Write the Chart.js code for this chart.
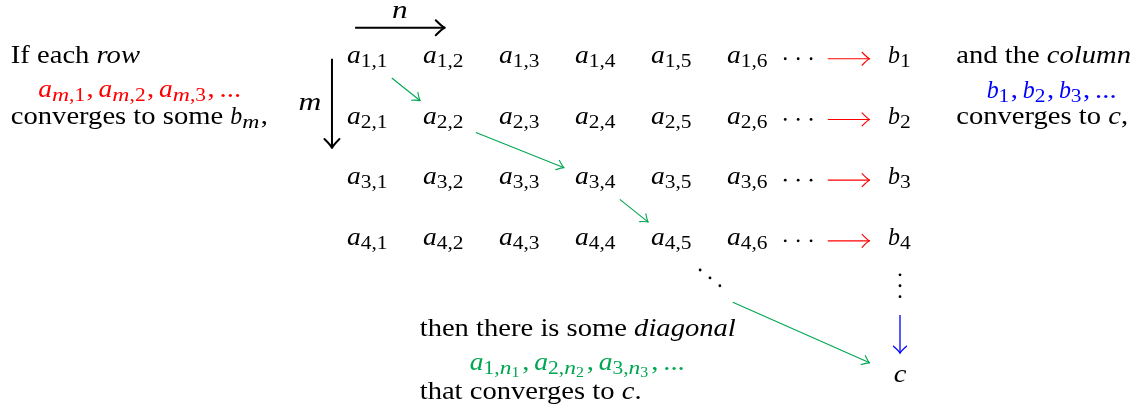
<!DOCTYPE html>
<html>
<head>
<meta charset="utf-8">
<script src="https://cdn.jsdelivr.net/npm/chart.js@4/dist/chart.umd.min.js"></script>
<style>html,body{margin:0;background:#fff}canvas{display:block}</style>
</head>
<body>
<canvas id="diag" width="1144" height="410"></canvas>
<script>
// the matrix a_{m,n}: rows m, columns n
var rows = [1, 2, 3, 4];
var cols = [1, 2, 3, 4, 5, 6];
// the chosen diagonal n_1, n_2, n_3, n_4
var diagCols = [1, 2, 4, 5];
// where the limits b_m and c sit
var limitCol = 8;
var limitRow = 6.26;
// dots
var cdotsCols = [6.49, 6.66, 6.83];
var vdotsRows = [4.49, 4.67, 4.85];
var ddotsCols = [5.37, 5.5, 5.63];
var ddotsRows = [4.41, 4.54, 4.67];
// arrows
var rowArrowCols = [7.05, 7.6];
var colArrowRows = [5.15, 5.78];
var lastArrowCols = [5.8, 7.6];
var lastArrowRows = [4.94, 5.94];

var RED = '#ff0000', BLUE = '#0000ff', GREEN = '#00a651';

// tiny tex-ish text: $..$ math, *..* italic, _ subscripts
var SX = 1.1;
var SIZES = [26, 19.5, 14.5];
var SHIFT = [0, 4, 7];
// advance widths (em) of a few math glyphs, so they space like the original
var MATH_W = {a: 0.529, b: 0.46, m: 0.878, n: 0.6, ',': 0.278, '.': 0.278};
function parseTex(src) {
    var out = [];
    function math(s, lvl) {
        var j = 0;
        while (j < s.length) {
            var c = s[j];
            if (c === '_') {
                j++;
                var g;
                if (s[j] === '{') {
                    var d = 1, k = j + 1;
                    while (d) { if (s[k] === '{') d++; else if (s[k] === '}') d--; k++; }
                    g = s.slice(j + 1, k - 1); j = k;
                } else { g = s[j]; j++; }
                math(g, lvl + 1);
                out.push({t: '', gap: 0.05, lvl: 0});   // script space
                continue;
            }
            out.push({t: c, it: /[a-z]/i.test(c), lvl: lvl, mw: MATH_W[c] || 0});
            if (c === ',' && lvl === 0) out.push({t: '', gap: 0.167, lvl: 0});
            j++;
        }
    }
    var it = false, i = 0;
    while (i < src.length) {
        var c = src[i];
        if (c === '$') { var e = src.indexOf('$', i + 1); math(src.slice(i + 1, e), 0); i = e + 1; continue; }
        if (c === '*') { it = !it; i++; continue; }
        out.push({t: c, it: it, lvl: 0});
        i++;
    }
    // merge runs
    var runs = [];
    out.forEach(function (tk) {
        var last = runs[runs.length - 1];
        if (last && !tk.gap && !last.gap && !tk.mw && !last.mw && last.it === tk.it && last.lvl === tk.lvl) last.t += tk.t;
        else runs.push(Object.assign({}, tk));
    });
    return runs;
}
function fontOf(r) {
    return (r.it ? 'italic ' : '') + SIZES[r.lvl] + 'px "Liberation Serif"';
}
function drawTex(ctx, src, x, y, align, color) {
    var runs = parseTex(src), w = 0;
    runs.forEach(function (r) {
        if (r.gap) { r.w = r.gap * SIZES[0]; }
        else {
            ctx.font = fontOf(r);
            r.nat = ctx.measureText(r.t).width;
            r.w = r.mw ? r.mw * SIZES[r.lvl] / SX : r.nat;
        }
        w += r.w;
    });
    var x0 = align === 'left' ? x : x - w * SX / 2;
    ctx.save();
    ctx.translate(x0, y);
    ctx.scale(SX, 1);
    ctx.fillStyle = color || '#000';
    ctx.textBaseline = 'alphabetic';
    ctx.textAlign = 'left';
    var cx = 0;
    runs.forEach(function (r) {
        if (!r.gap) {
            ctx.font = fontOf(r);
            if (r.mw && r.it) {
                ctx.save();
                ctx.translate(cx, SHIFT[r.lvl]);
                ctx.scale(r.w / r.nat, 1);
                ctx.fillText(r.t, 0, 0);
                ctx.restore();
            } else ctx.fillText(r.t, cx, SHIFT[r.lvl]);
        }
        cx += r.w;
    });
    ctx.restore();
}

function drawHead(ctx, x, y, ang, len, half, lw, color) {
    ctx.save();
    ctx.translate(x, y);
    ctx.rotate(ang);
    ctx.strokeStyle = color;
    ctx.lineWidth = lw;
    ctx.lineCap = 'round';
    ctx.lineJoin = 'round';
    ctx.beginPath();
    ctx.moveTo(-len, -half);
    ctx.quadraticCurveTo(-len * 0.3, -half * 0.15, 0, 0);
    ctx.quadraticCurveTo(-len * 0.3, half * 0.15, -len, half);
    ctx.stroke();
    ctx.restore();
}

var texPlugin = {
    id: 'texLabels',
    afterDatasetsDraw: function (chart) {
        var ctx = chart.ctx;
        chart.data.datasets.forEach(function (ds, i) {
            var meta = chart.getDatasetMeta(i);
            if (ds.head) {
                var pts = meta.data, a = pts[pts.length - 2], b = pts[pts.length - 1];
                drawHead(ctx, b.x, b.y, Math.atan2(b.y - a.y, b.x - a.x), ds.head[0], ds.head[1], ds.borderWidth, ds.borderColor);
            }
            if (ds.tex) {
                meta.data.forEach(function (el, j) {
                    var d = ds.data[j];
                    drawTex(ctx, d.tex, el.x, el.y, ds.align, ds.color);
                });
            }
        });
    }
};

var datasets = [];
function line(xs, ys, color, width, head) {
    datasets.push({
        data: [{x: xs[0], y: ys[0]}, {x: xs[1], y: ys[1]}],
        showLine: true, borderColor: color, borderWidth: width,
        pointRadius: 0, pointHoverRadius: 0, clip: false, head: head
    });
}
function dots(pts) {
    datasets.push({data: pts, pointRadius: 1.4, pointHoverRadius: 0, pointBackgroundColor: '#000', borderWidth: 0, clip: false});
}
function labels(pts, align, color) {
    datasets.push({data: pts, pointRadius: 0, pointHoverRadius: 0, tex: true, align: align, color: color, clip: false});
}

// entries of the matrix
var entries = [];
rows.forEach(function (m) {
    cols.forEach(function (n) { entries.push({x: n, y: m, tex: '$a_{' + m + ',' + n + '}$'}); });
});
labels(entries, 'center');

// row limits
var cd = [];
rows.forEach(function (m) {
    cdotsCols.forEach(function (c) { cd.push({x: c, y: m - 0.07}); });
    line(rowArrowCols, [m - 0.07, m - 0.07], RED, 1.1, [7.5, 6.5]);
});
dots(cd);
labels(rows.map(function (m) { return {x: limitCol, y: m, tex: '$b_' + m + '$'}; }), 'center');

// column limit
dots(vdotsRows.map(function (r) { return {x: limitCol, y: r}; }));
line([limitCol, limitCol], colArrowRows, BLUE, 1.3, [7, 6.5]);
labels([{x: limitCol, y: limitRow, tex: '$c$'}], 'center');

// diagonal
dots(ddotsCols.map(function (c, i) { return {x: c, y: ddotsRows[i]}; }));
var hw = 0.42, hh = 0.313, off = -0.066;
for (var k = 0; k < diagCols.length - 1; k++) {
    var x0 = diagCols[k], y0 = rows[k] + off, x1 = diagCols[k + 1], y1 = rows[k + 1] + off;
    var dx = x1 - x0, dy = y1 - y0, t = Math.min(hw / Math.abs(dx), hh / Math.abs(dy));
    line([x0 + t * dx, x1 - t * dx], [y0 + t * dy, y1 - t * dy], GREEN, 1.1, [7, 5]);
}
line(lastArrowCols, lastArrowRows, GREEN, 1.1, [7, 5]);

// n and m axes
line([0.83, 2.01], [0.42, 0.42], '#000', 2, [9, 7.5]);
line([0.526, 0.526], [0.93, 2.40], '#000', 2, [9, 7.5]);
labels([{x: 1.42, y: 0.26, tex: '$n$'}, {x: 0.237, y: 1.77, tex: '$m$'}], 'center');

// the sentences
labels([
    {x: -3.70, y: 1.0, tex: 'If each *row*'},
    {x: -3.70, y: 2.0, tex: 'converges to some $b_m$,'},
    {x: 8.74, y: 1.0, tex: 'and the *column*'},
    {x: 8.74, y: 2.0, tex: 'converges to $c$,'},
    {x: 1.68, y: 5.49, tex: 'then there is some *diagonal*'},
    {x: 1.68, y: 6.535, tex: 'that converges to $c$.'}
], 'left');
labels([{x: -3.34, y: 1.56, tex: '$a_{m,1},a_{m,2},a_{m,3},...$'}], 'left', RED);
labels([{x: 9.14, y: 1.58, tex: '$b_1,b_2,b_3,...$'}], 'left', BLUE);
labels([{x: 2.34, y: 6.06, tex: '$a_{1,n_1},a_{2,n_2},a_{3,n_3},...$'}], 'left', GREEN);

var diag = new Chart(document.getElementById('diag'), {
    type: 'scatter',
    data: {datasets: datasets},
    options: {
        responsive: false,
        animation: false,
        events: [],
        layout: {padding: 0, autoPadding: false},
        plugins: {legend: {display: false}, tooltip: {enabled: false}},
        scales: {
            x: {type: 'linear', display: false, min: -3.8421, max: 11.2105},
            y: {type: 'linear', display: false, reverse: true, min: -0.0379, max: 6.7166}
        }
    },
    plugins: [texPlugin]
});
</script>
</body>
</html>
